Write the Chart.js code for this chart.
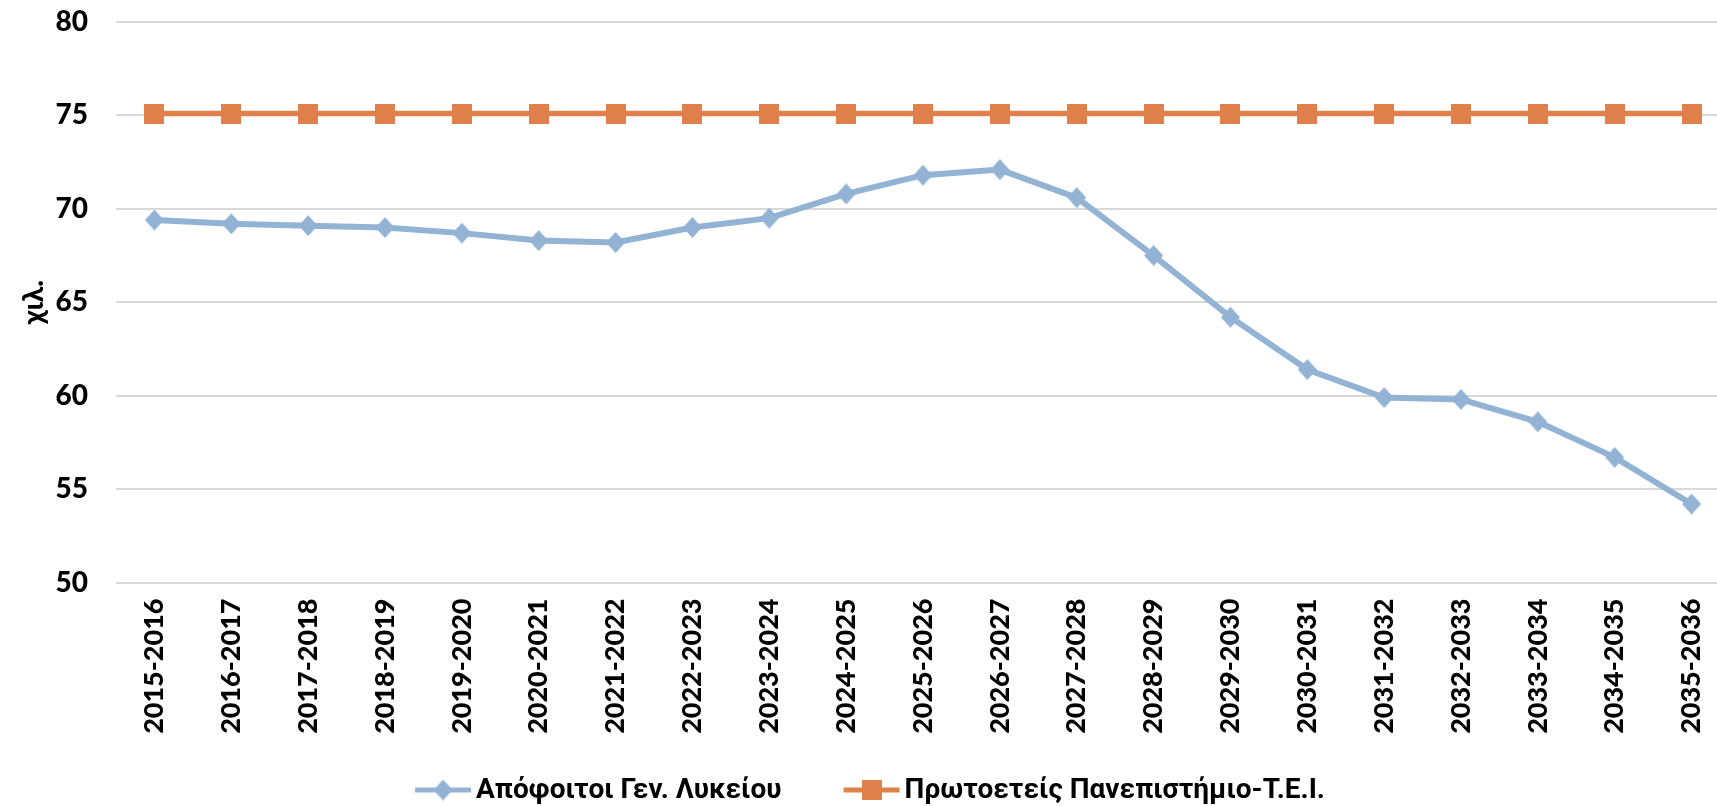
<!DOCTYPE html>
<html>
<head>
<meta charset="utf-8">
<script src="https://cdn.jsdelivr.net/npm/chart.js@4.4.0/dist/chart.umd.min.js"></script>
<style>
  html, body { margin: 0; padding: 0; background: #fff; overflow: hidden; }
  canvas { display: block; }
</style>
</head>
<body>
<canvas id="myChart" width="1730" height="806"></canvas>
<script>
const years = ['2015-2016', '2016-2017', '2017-2018', '2018-2019', '2019-2020', '2020-2021', '2021-2022',
  '2022-2023', '2023-2024', '2024-2025', '2025-2026', '2026-2027', '2027-2028', '2028-2029',
  '2029-2030', '2030-2031', '2031-2032', '2032-2033', '2033-2034', '2034-2035', '2035-2036'];
const graduates = [69.4, 69.2, 69.1, 69.0, 68.7, 68.3, 68.2, 69.0, 69.5, 70.8, 71.8,
  72.1, 70.6, 67.5, 64.2, 61.4, 59.9, 59.8, 58.6, 56.7, 54.2];
const freshmen = [75.1, 75.1, 75.1, 75.1, 75.1, 75.1, 75.1, 75.1, 75.1, 75.1, 75.1,
  75.1, 75.1, 75.1, 75.1, 75.1, 75.1, 75.1, 75.1, 75.1, 75.1];
const seriesNames = ['Απόφοιτοι Γεν. Λυκείου', 'Πρωτοετείς Πανεπιστήμιο-Τ.Ε.Ι.'];
const yMin = 50, yMax = 80, yStep = 5;

const blue = '#93B3D5';
const orange = '#E0804A';

// marker images
function diamond(w, h, color) {
  const c = document.createElement('canvas');
  c.width = w; c.height = h;
  const g = c.getContext('2d');
  g.fillStyle = color;
  g.beginPath();
  g.moveTo(w / 2, 0); g.lineTo(w, h / 2); g.lineTo(w / 2, h); g.lineTo(0, h / 2);
  g.closePath(); g.fill();
  return c;
}
function square(s, color) {
  const c = document.createElement('canvas');
  c.width = s; c.height = s;
  const g = c.getContext('2d');
  g.fillStyle = color;
  g.fillRect(0, 0, s, s);
  return c;
}
const blueMark = diamond(19, 21, blue);
const orangeMark = square(20, orange);

// legend: line with marker in the middle, then the label
const lineLegend = {
  id: 'lineLegend',
  afterDraw(chart) {
    const ctx = chart.ctx;
    const symW = 56, textGap = 5, itemGap = 62;
    const y = 790;
    ctx.save();
    ctx.font = 'bold 28px Roboto';
    ctx.textBaseline = 'middle';
    ctx.fillStyle = '#000';
    const items = chart.data.datasets.map(ds => ({ds, w: symW + textGap + ctx.measureText(ds.label).width}));
    const total = items.reduce((s, it) => s + it.w, 0) + itemGap * (items.length - 1);
    let x = chart.width / 2 + 5 - total / 2;
    items.forEach(it => {
      ctx.strokeStyle = it.ds.borderColor;
      ctx.lineWidth = 5;
      ctx.beginPath();
      ctx.moveTo(x, y); ctx.lineTo(x + symW, y);
      ctx.stroke();
      const m = it.ds.pointStyle;
      ctx.drawImage(m, x + symW / 2 - m.width / 2, y - m.height / 2);
      ctx.fillText(it.ds.label, x + symW + textGap, y + 1);
      x += it.w + itemGap;
    });
    ctx.restore();
  }
};

new Chart(document.getElementById('myChart'), {
  type: 'line',
  data: {
    labels: years,
    datasets: [{
      label: seriesNames[0],
      data: graduates,
      borderColor: blue,
      backgroundColor: blue,
      borderWidth: 6,
      pointStyle: blueMark,
      pointRadius: 10,
      tension: 0
    }, {
      label: seriesNames[1],
      data: freshmen,
      borderColor: orange,
      backgroundColor: orange,
      borderWidth: 5.5,
      pointStyle: orangeMark,
      pointRadius: 10,
      tension: 0
    }]
  },
  options: {
    responsive: false,
    animation: false,
    layout: { autoPadding: false, padding: { top: 22, bottom: 50, left: 0, right: 0 } },
    plugins: {
      legend: { display: false },
      tooltip: { enabled: false }
    },
    scales: {
      x: {
        offset: true,
        grid: { display: false, drawTicks: false },
        border: { display: false },
        ticks: {
          minRotation: 90, maxRotation: 90, autoSkip: false, padding: 16,
          color: '#000',
          font: { family: 'Lato', weight: 900, size: 27 }
        },
        afterFit(scale) {
          scale.height = 173.5;
          scale.paddingLeft = 0;
          scale.paddingRight = 0;
        }
      },
      y: {
        min: yMin, max: yMax,
        ticks: {
          stepSize: yStep, padding: 28, color: '#000',
          font: { family: 'Lato', weight: 900, size: 28 }
        },
        grid: { color: '#D9D9D9', lineWidth: 2, drawTicks: false },
        border: { display: false },
        title: {
          display: true, text: 'χιλ.', color: '#000',
          font: { family: 'Lato', weight: 900, size: 28 },
          padding: { top: 17, bottom: 0 }
        },
        afterFit(scale) {
          scale.width = 116;
          scale.paddingTop = 0;
          scale.paddingBottom = 0;
        }
      }
    }
  },
  plugins: [lineLegend]
});
</script>
</body>
</html>
